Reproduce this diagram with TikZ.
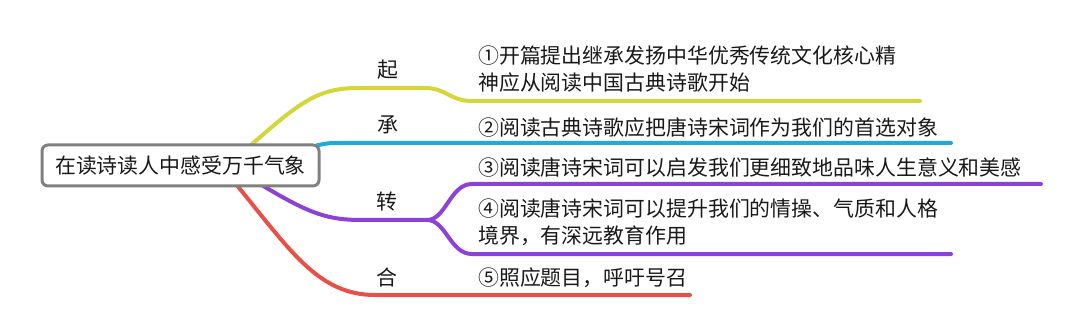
\documentclass[tikz,border=0pt]{standalone}
\usepackage{fontspec}
\newfontfamily\cjk{Noto Sans CJK SC}
\usetikzlibrary{calc,backgrounds}
\definecolor{cyel}{RGB}{212,214,58}
\definecolor{cblu}{RGB}{30,170,220}
\definecolor{cpur}{RGB}{140,65,215}
\definecolor{cred}{RGB}{232,80,72}
\definecolor{cgry}{RGB}{128,128,128}
\definecolor{ctxt}{RGB}{25,25,25}
\begin{document}
\begin{tikzpicture}[x=1pt,y=-1pt,
  every node/.style={font=\cjk\fontsize{20.9}{27}\selectfont, text=ctxt, inner sep=0pt},
  rootbox/.style={draw=cgry, line width=3pt, rounded corners=6pt, fill=white,
    minimum width=277pt, minimum height=41pt},
  branch/.style={line width=4pt, line cap=round},
  leaf/.style={anchor=west, align=left},
  lbl/.style={anchor=center}]
\useasboundingbox (0,0) rectangle (1080,334);
\node[rootbox] (root) at (180.5,165.5) {在读诗读人中感受万千气象};

\node[lbl] (q) at (388,70) {起};
\node[lbl] (c) at (388,125) {承};
\node[lbl] (z) at (387,202) {转};
\node[lbl] (h) at (387,278) {合};

\node[leaf] (t1) at (478,69) {①开篇提出继承发扬中华优秀传统文化核心精\\神应从阅读中国古典诗歌开始};
\node[leaf] (t2) at (478,127) {②阅读古典诗歌应把唐诗宋词作为我们的首选对象};
\node[leaf] (t3) at (478,167) {③阅读唐诗宋词可以启发我们更细致地品味人生意义和美感};
\node[leaf] (t4) at (478,222) {④阅读唐诗宋词可以提升我们的情操、气质和人格\\境界，有深远教育作用};
\node[leaf] (t5) at (478,278) {⑤照应题目，呼吁号召};

\coordinate (e1) at (920,101);
\coordinate (e2) at (951,143);
\coordinate (e3) at (1041,184);
\coordinate (e4) at (951,254);
\coordinate (e5) at (690,295);
\coordinate (fork) at (427,220);

\begin{pgfonlayer}{background}
\draw[branch, cyel] ($(root.north)+(70,2)$) .. controls (300,102) and (318,88) .. (358,88)
  -- (425,88) .. controls (446,88) and (450,101) .. (472,101) -- (e1);
\draw[branch, cblu] ($(root.north east)+(-4,2)$) .. controls (328,143) .. (345,143) -- (e2);
\draw[branch, cpur] ($(root.south)+(82,-2)$) .. controls (310,214) and (328,220) .. (362,220) -- (fork);
\draw[branch, cpur] (fork) .. controls (446,220) and (450,184) .. (472,184) -- (e3);
\draw[branch, cpur] (fork) .. controls (446,220) and (450,254) .. (472,254) -- (e4);
\draw[branch, cred] ($(root.south)+(55,-4)$) .. controls (290,250) and (318,295) .. (375,295) -- (e5);
\end{pgfonlayer}
\end{tikzpicture}
\end{document}
